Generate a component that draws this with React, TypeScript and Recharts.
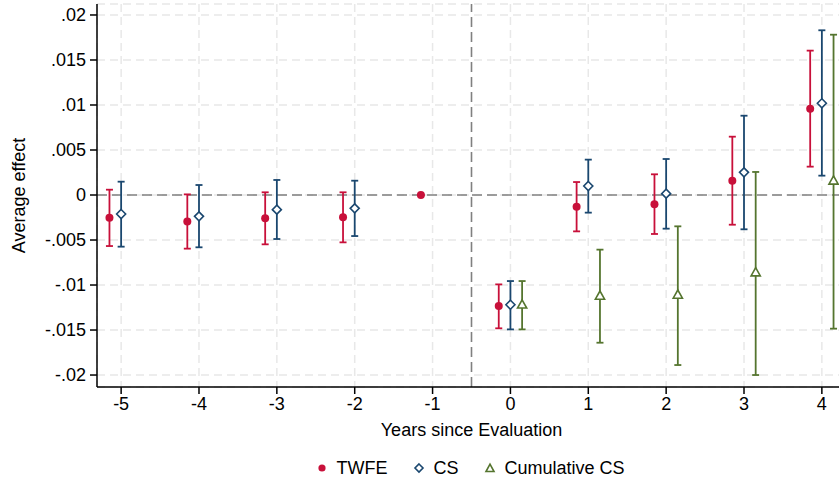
import React from 'react';
import {
  ComposedChart,
  Scatter,
  ErrorBar,
  XAxis,
  YAxis,
  CartesianGrid,
  ReferenceLine,
  Legend,
} from 'recharts';

// ---- data ----
const xTicks = [-5, -4, -3, -2, -1, 0, 1, 2, 3, 4];
const yTicks = [-0.02, -0.015, -0.01, -0.005, 0, 0.005, 0.01, 0.015, 0.02];
const yTickLabels = ['-.02', '-.015', '-.01', '-.005', '0', '.005', '.01', '.015', '.02'];

const twfeYears = [-5, -4, -3, -2, -1, 0, 1, 2, 3, 4];
const twfeEst = [-0.00252, -0.00293, -0.00259, -0.00248, 0, -0.01233, -0.0013, -0.00104, 0.00159, 0.00959];
const twfeLo = [-0.00567, -0.00596, -0.00548, -0.00526, 0, -0.01481, -0.00404, -0.00433, -0.0033, 0.00315];
const twfeHi = [0.00059, 0.00007, 0.0003, 0.0003, 0, -0.00993, 0.00144, 0.0023, 0.00648, 0.01604];

const csYears = [-5, -4, -3, -2, 0, 1, 2, 3, 4];
const csEst = [-0.00211, -0.00237, -0.00163, -0.00148, -0.01219, 0.001, 0.00015, 0.00252, 0.01019];
const csLo = [-0.00574, -0.00581, -0.00489, -0.00456, -0.01493, -0.00196, -0.00374, -0.00381, 0.00215];
const csHi = [0.00148, 0.00111, 0.00167, 0.00159, -0.00956, 0.00393, 0.004, 0.00881, 0.0183];

const cumYears = [0, 1, 2, 3, 4];
const cumEst = [-0.0122, -0.01122, -0.01111, -0.00863, 0.00156];
const cumLo = [-0.01493, -0.01641, -0.01889, -0.02, -0.01485];
const cumHi = [-0.00956, -0.00607, -0.00348, 0.00256, 0.01781];

// ---- styles ----
const RED = '#c8103a';
const BLUE = '#1a476f';
const GREEN = '#55752f';
const FONT = '"Liberation Sans", Arial, sans-serif';
const OFFSET = 0.15;

const build = (years: number[], est: number[], lo: number[], hi: number[], shift: number) =>
  years.map((yr, i) => ({
    x: yr + shift,
    y: est[i],
    err: [est[i] - lo[i], hi[i] - est[i]],
  }));

const twfeData = build(twfeYears, twfeEst, twfeLo, twfeHi, -OFFSET);
const csData = build(csYears, csEst, csLo, csHi, 0);
const cumData = build(cumYears, cumEst, cumLo, cumHi, OFFSET);

const Dot = (p: any) => <circle cx={p.cx} cy={p.cy} r={4} fill={RED} stroke="none" />;
const Diamond = (p: any) => (
  <path
    d={`M${p.cx},${p.cy - 4.5}L${p.cx + 4.5},${p.cy}L${p.cx},${p.cy + 4.5}L${p.cx - 4.5},${p.cy}Z`}
    fill="#fff"
    stroke={BLUE}
    strokeWidth={1.6}
  />
);
const Tri = (p: any) => (
  <path
    d={`M${p.cx},${p.cy - 5}L${p.cx + 4.6},${p.cy + 3.2}L${p.cx - 4.6},${p.cy + 3.2}Z`}
    fill="#fff"
    stroke={GREEN}
    strokeWidth={1.6}
  />
);

const legendItems = [
  { name: 'TWFE', kind: 'dot' },
  { name: 'CS', kind: 'diamond' },
  { name: 'Cumulative CS', kind: 'tri' },
];

const LegendMarker = ({ kind }: { kind: string }) => (
  <svg width={12} height={12} style={{ display: 'block' }}>
    {kind === 'dot' && <circle cx={6} cy={6} r={3.6} fill={RED} />}
    {kind === 'diamond' && (
      <path d="M6,2L10,6L6,10L2,6Z" fill="#fff" stroke={BLUE} strokeWidth={1.6} />
    )}
    {kind === 'tri' && (
      <path d="M6,2.2L10,9.5L2,9.5Z" fill="#fff" stroke={GREEN} strokeWidth={1.6} />
    )}
  </svg>
);

const LegendContent = () => (
  <div
    style={{
      display: 'flex',
      justifyContent: 'center',
      alignItems: 'center',
      height: 32,
      fontFamily: FONT,
      fontSize: 18,
      color: '#000',
    }}
  >
    {legendItems.map((it, i) => (
      <div key={it.name} style={{ display: 'flex', alignItems: 'center', marginLeft: i === 0 ? 0 : 26 }}>
        <LegendMarker kind={it.kind} />
        <span style={{ marginLeft: 8 }}>{it.name}</span>
      </div>
    ))}
  </div>
);

const fmtY = (v: number) => {
  const idx = yTicks.findIndex((t) => Math.abs(t - v) < 1e-9);
  return idx >= 0 ? yTickLabels[idx] : String(v);
};

export default function App() {
  return (
    <div
      style={{
        position: 'fixed',
        left: 0,
        top: 0,
        width: 839,
        height: 481,
        overflow: 'hidden',
        background: '#fff',
      }}
    >
      <ComposedChart width={846} height={481} margin={{ top: 4, right: 0, bottom: 0, left: 0 }}>
        <CartesianGrid stroke="#e8e8e8" strokeWidth={1.5} strokeDasharray="8 5" />
        <XAxis
          type="number"
          dataKey="x"
          domain={[-5.31, 4.31]}
          ticks={xTicks}
          allowDataOverflow
          height={62}
          tickSize={7}
          tickMargin={3}
          tick={{ fill: '#000', fontSize: 18, fontFamily: FONT }}
          axisLine={{ stroke: '#000', strokeWidth: 1.5 }}
          tickLine={{ stroke: '#000', strokeWidth: 1.5 }}
          label={{
            content: ({ viewBox }: any) => (
              <text
                x={viewBox.x + viewBox.width / 2}
                y={viewBox.y + 43}
                textAnchor="middle"
                dominantBaseline="central"
                fontSize={18}
                fontFamily={FONT}
                fill="#000"
              >
                Years since Evaluation
              </text>
            ),
          }}
        />
        <YAxis
          type="number"
          dataKey="y"
          domain={[-0.02133, 0.02122]}
          ticks={yTicks}
          allowDataOverflow
          width={97}
          tickSize={7}
          tickMargin={4}
          tickFormatter={fmtY}
          tick={{ fill: '#000', fontSize: 18, fontFamily: FONT }}
          axisLine={{ stroke: '#000', strokeWidth: 1.5 }}
          tickLine={{ stroke: '#000', strokeWidth: 1.5 }}
          label={{
            content: ({ viewBox }: any) => {
              const cx = viewBox.x + 19;
              const cy = viewBox.y + viewBox.height / 2;
              return (
                <text
                  x={cx}
                  y={cy}
                  transform={`rotate(-90 ${cx} ${cy})`}
                  textAnchor="middle"
                  dominantBaseline="central"
                  fontSize={18}
                  fontFamily={FONT}
                  fill="#000"
                >
                  Average effect
                </text>
              );
            },
          }}
        />
        <ReferenceLine y={0} stroke="#808080" strokeWidth={1.6} strokeDasharray="10 5" />
        <ReferenceLine x={-0.5} stroke="#808080" strokeWidth={1.6} strokeDasharray="10 5" />
        <Scatter name="TWFE" data={twfeData} dataKey="y" shape={Dot} isAnimationActive={false}>
          <ErrorBar dataKey="err" direction="y" width={3.5} stroke={RED} strokeWidth={1.8} isAnimationActive={false} />
        </Scatter>
        <Scatter name="CS" data={csData} dataKey="y" shape={Diamond} isAnimationActive={false}>
          <ErrorBar dataKey="err" direction="y" width={3.5} stroke={BLUE} strokeWidth={1.8} isAnimationActive={false} />
        </Scatter>
        <Scatter name="Cumulative CS" data={cumData} dataKey="y" shape={Tri} isAnimationActive={false}>
          <ErrorBar dataKey="err" direction="y" width={3.5} stroke={GREEN} strokeWidth={1.8} isAnimationActive={false} />
        </Scatter>
        <Legend
          verticalAlign="bottom"
          content={<LegendContent />}
          wrapperStyle={{ left: 96, width: 749, bottom: -3 }}
        />
      </ComposedChart>
    </div>
  );
}
